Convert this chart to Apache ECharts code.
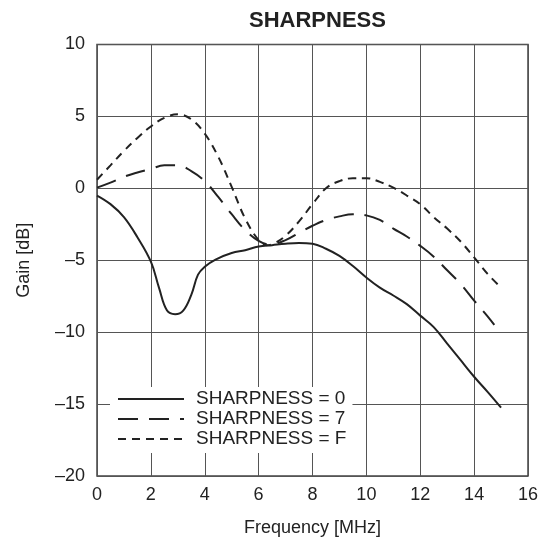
<!DOCTYPE html>
<html>
<head>
<meta charset="utf-8">
<script src="https://cdn.jsdelivr.net/npm/echarts@6/dist/echarts.min.js"></script>
<style>html,body{margin:0;padding:0;background:#fff;}#c{width:553px;height:544px;}</style>
</head>
<body>
<div id="c"></div>
<script>
// Data
var xTicks = [0, 2, 4, 6, 8, 10, 12, 14, 16];
var yTicks = [-20, -15, -10, -5, 0, 5, 10];

var s0Freq = [0, 0.5, 1, 1.5, 2, 2.3, 2.6, 2.9, 3.2, 3.5, 3.75, 4, 4.4, 5, 5.5, 6, 6.5, 7, 7.5, 8, 8.5, 9, 9.5, 10, 10.5, 11, 11.5, 12, 12.5, 13, 13.5, 14, 14.5, 15];
var s0Gain = [-0.5, -1.1, -2.0, -3.4, -5.1, -6.9, -8.5, -8.75, -8.5, -7.4, -6.0, -5.45, -4.95, -4.5, -4.3, -4.05, -3.95, -3.85, -3.8, -3.85, -4.2, -4.7, -5.4, -6.2, -6.9, -7.45, -8.05, -8.85, -9.65, -10.8, -11.95, -13.1, -14.15, -15.25];

var s7Freq = [0, 0.5, 1, 1.5, 2, 2.5, 3, 3.5, 4, 4.5, 5, 5.5, 6, 6.4, 7, 7.5, 8, 8.5, 9, 9.5, 10, 10.5, 11, 11.5, 12, 12.5, 13, 13.5, 14, 14.5, 14.75];
var s7Gain = [0.05, 0.4, 0.8, 1.1, 1.35, 1.6, 1.6, 1.2, 0.5, -0.6, -1.8, -2.9, -3.65, -3.9, -3.6, -3.1, -2.6, -2.2, -1.95, -1.8, -1.88, -2.2, -2.8, -3.35, -4.0, -4.75, -5.7, -6.65, -7.8, -8.9, -9.5];

var sFFreq = [0, 0.5, 1, 1.5, 2, 2.5, 3, 3.5, 4, 4.5, 5, 5.5, 6, 6.3, 6.6, 7, 7.5, 8, 8.5, 9, 9.5, 10, 10.5, 11, 11.5, 12, 12.5, 13, 13.5, 14, 14.5, 15];
var sFGain = [0.6, 1.6, 2.6, 3.5, 4.3, 4.9, 5.15, 4.8, 3.8, 2.2, 0.1, -2.1, -3.6, -3.95, -3.8, -3.3, -2.3, -1.1, 0.0, 0.5, 0.7, 0.7, 0.45, 0.05, -0.5, -1.1, -2.0, -2.8, -3.7, -4.8, -5.95, -6.9];

var seriesNames = ['SHARPNESS = 0', 'SHARPNESS = 7', 'SHARPNESS = F'];

function pairs(xs, ys) { return xs.map(function (x, i) { return [x, ys[i]]; }); }

var FONT = "'Liberation Sans', Arial, sans-serif";
var INK = '#222';

var chart = echarts.init(document.getElementById('c'), null, { renderer: 'canvas' });
chart.setOption({
  animation: false,
  backgroundColor: '#fff',
  title: {
    text: 'SHARPNESS',
    left: 244, top: 5,
    textStyle: { fontFamily: FONT, fontSize: 22, fontWeight: 'bold', color: INK }
  },
  grid: {
    left: 97, right: 25, top: 44.5, bottom: 68,
    show: true, borderColor: '#444', borderWidth: 1.5, backgroundColor: 'transparent'
  },
  legend: {
    orient: 'vertical', left: 110, top: 387,
    backgroundColor: '#fff',
    padding: [2, 6, 4, 7],
    itemWidth: 66, itemHeight: 14, itemGap: 0,
    itemStyle: { opacity: 0 },
    textStyle: { fontFamily: FONT, fontSize: 19, lineHeight: 20, color: INK, padding: [0, 0, 0, 7] },
    data: seriesNames
  },
  xAxis: {
    type: 'value', min: xTicks[0], max: xTicks[xTicks.length - 1], interval: 2,
    name: 'Frequency [MHz]', nameLocation: 'middle', nameGap: 43,
    nameTextStyle: { fontFamily: FONT, fontSize: 18, color: INK },
    axisLine: { show: false },
    axisTick: { show: false },
    axisLabel: { fontFamily: FONT, fontSize: 18, color: INK, margin: 10 },
    splitLine: { show: true, lineStyle: { color: '#555', width: 1 } }
  },
  yAxis: {
    type: 'value', min: yTicks[0], max: yTicks[yTicks.length - 1], interval: 5,
    name: 'Gain [dB]', nameLocation: 'middle', nameGap: 64,
    nameTextStyle: { fontFamily: FONT, fontSize: 18, color: INK },
    axisLine: { show: false },
    axisTick: { show: false },
    axisLabel: {
      fontFamily: FONT, fontSize: 18, color: INK, margin: 12,
      formatter: function (v) { return String(v).replace('-', '\u2013'); }
    },
    splitLine: { show: true, lineStyle: { color: '#555', width: 1 } }
  },
  series: [
    {
      name: seriesNames[0], type: 'line', smooth: 0.4, symbol: 'none',
      data: pairs(s0Freq, s0Gain),
      lineStyle: { color: INK, width: 2, type: 'solid' }, itemStyle: { color: INK }, z: 3
    },
    {
      name: seriesNames[1], type: 'line', smooth: 0.4, symbol: 'none',
      data: pairs(s7Freq, s7Gain),
      lineStyle: { color: INK, width: 2, type: [20, 11] }, itemStyle: { color: INK }, z: 3
    },
    {
      name: seriesNames[2], type: 'line', smooth: 0.4, symbol: 'none',
      data: pairs(sFFreq, sFGain),
      lineStyle: { color: INK, width: 2, type: [8, 6] }, itemStyle: { color: INK }, z: 3
    }
  ]
});
</script>
</body>
</html>
